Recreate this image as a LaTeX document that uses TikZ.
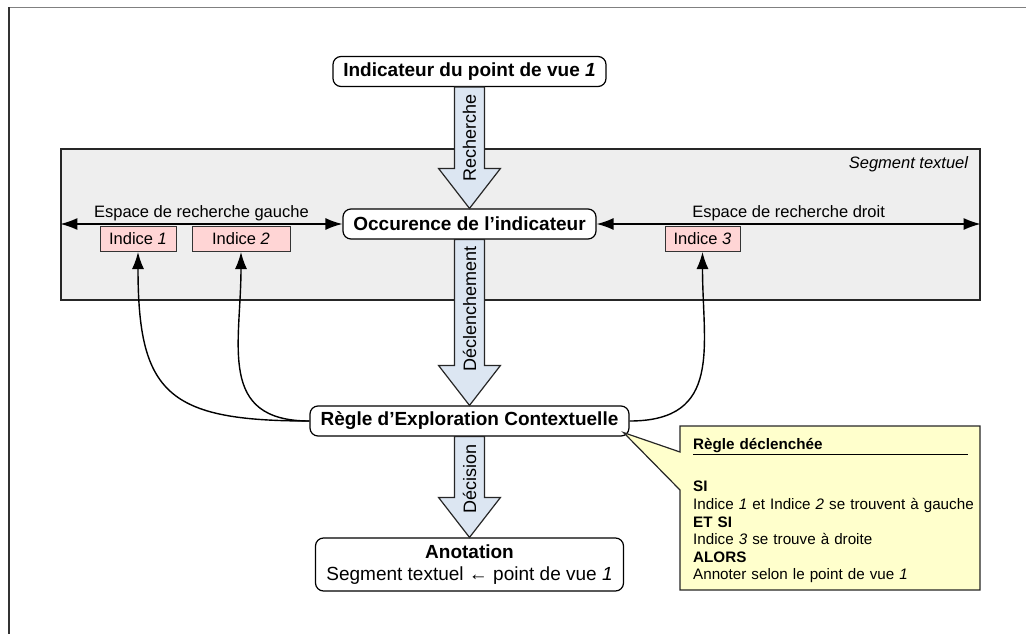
\documentclass[tikz,border=0pt]{standalone}
\usepackage{fontspec}
\setmainfont{Liberation Sans}
\usetikzlibrary{arrows.meta, calc}

\definecolor{seggray}{HTML}{EEEEEE}
\definecolor{indpink}{HTML}{FFD5D5}
\definecolor{arrowblue}{HTML}{DCE6F2}
\definecolor{noteyellow}{HTML}{FFFFCC}

\tikzstyle{box} = [rectangle, rounded corners=8pt, minimum height=30pt, inner xsep=6pt, text centered, draw=black, line width=1.2pt, fill=white, font=\fontsize{19}{22}\selectfont\bfseries]
\tikzstyle{indice} = [rectangle, minimum height=25pt, text centered, draw=black!80, line width=1pt, fill=indpink, font=\fontsize{16.5}{19}\selectfont]
\tikzstyle{segment} = [rectangle, minimum width=919pt, minimum height=151pt, draw=black!85, line width=1.2pt, fill=seggray]
\tikzstyle{small} = [font=\fontsize{16.5}{19}\selectfont]
\tikzstyle{dblarrow} = [line width=1.4pt, {Latex[length=17pt,width=12pt]}-{Latex[length=17pt,width=12pt]}]
\tikzstyle{linkarrow} = [line width=1.4pt, -{Latex[length=17pt,width=12pt]}]
\tikzstyle{bigarrow} = [draw=black!85, line width=1.2pt, fill=arrowblue]
\tikzstyle{arrowlabel} = [rotate=90, font=\fontsize{18}{22}\selectfont]

% fat arrow between two boxes, with its label along the shaft
\newcommand{\fatarrow}[3]{%
  \path[bigarrow] let \p1=(#1.south), \p2=(#2.north) in
    (\x1-15pt,\y1) -- (\x1-15pt,\y2+40pt) -- (\x1-31pt,\y2+40pt) -- (\x1,\y2)
    -- (\x1+31pt,\y2+40pt) -- (\x1+15pt,\y2+40pt) -- (\x1+15pt,\y1) -- cycle;
  \node (lbl#1)[arrowlabel] at ($(#1.south)!0.42!(#2.north)$) {#3};
}

\begin{document}
\begin{tikzpicture}[x=1pt, y=1pt, node distance=150pt]

\useasboundingbox (0,0) rectangle (1026,-634);
\draw[black!50, line width=1.5pt] (9,-7.5) -- (1026,-7.5);
\draw[black!80, line width=1.5pt] (9,-7.5) -- (9,-634);

\node (seg)[segment] at (520.5,-224.5) {};
\node (seglabel)[small, anchor=north east, font=\fontsize{16.5}{19}\selectfont\itshape] at ($(seg.north east)+(-9,-5)$) {Segment textuel};

\node (ind)[box, minimum width=273pt] at (469.5,-71.5) {Indicateur du point de vue \textit{1}};

\node (occ)[box, minimum width=253pt, below of=ind, yshift=-2.5pt] {Occurence de l’indicateur};

\node (regle)[box, minimum width=319pt, below of=occ, yshift=-47pt] {Règle d’Exploration Contextuelle};

\node (anot)[box, minimum width=308pt, minimum height=53pt, align=center, below of=regle, yshift=6.5pt] {Anotation\\{\mdseries Segment textuel ← point de vue \textit{1}}};

\node (ind1)[indice, minimum width=76pt, anchor=north] at (138,-226) {Indice \textit{1}};
\node (ind2)[indice, minimum width=98pt, anchor=north] at (241,-226) {Indice \textit{2}};
\node (ind3)[indice, minimum width=75pt, anchor=north] at (702.5,-226) {Indice \textit{3}};

\draw[dblarrow] (seg.west |- occ.west) -- (occ.west) node[midway, above, small, inner sep=2pt] {Espace de recherche gauche};
\draw[dblarrow] (occ.east) -- (seg.east |- occ.east) node[midway, above, small, inner sep=2pt] {Espace de recherche droit};

\fatarrow{ind}{occ}{Recherche}
\fatarrow{occ}{regle}{Déclenchement}
\fatarrow{regle}{anot}{Décision}

\draw[linkarrow] (regle.west) to[out=180, in=-90, looseness=1.5] (ind1.south);
\draw[linkarrow] (regle.west) to[out=180, in=-90, looseness=1.3] (ind2.south);
\draw[linkarrow] (regle.east) to[out=0, in=-90, looseness=1.3] (ind3.south);

% callout with the triggered rule
\coordinate (note) at (680,-426);
\path[draw=black!85, line width=1.2pt, fill=noteyellow] (note) -- ++(300,0) -- ++(0,-164) -- ++(-300,0) -- ($(note)+(0,-64)$) -- ($(regle.south east)+(-6,4)$) -- ($(note)+(0,-26)$) -- cycle;
\node (rule)[anchor=north west, text width=295pt, inner xsep=13pt, inner ysep=12pt, align=left, font=\fontsize{15.2}{17.6}\selectfont] at (note) {\underline{\makebox[275pt][l]{\textbf{Règle déclenchée}}}\\[25pt]
\textbf{SI}\\
Indice \textit{1} et Indice \textit{2} se trouvent à gauche\\
\textbf{ET SI}\\
Indice \textit{3} se trouve à droite\\
\textbf{ALORS}\\
Annoter selon le point de vue \textit{1}};

\end{tikzpicture}
\end{document}
